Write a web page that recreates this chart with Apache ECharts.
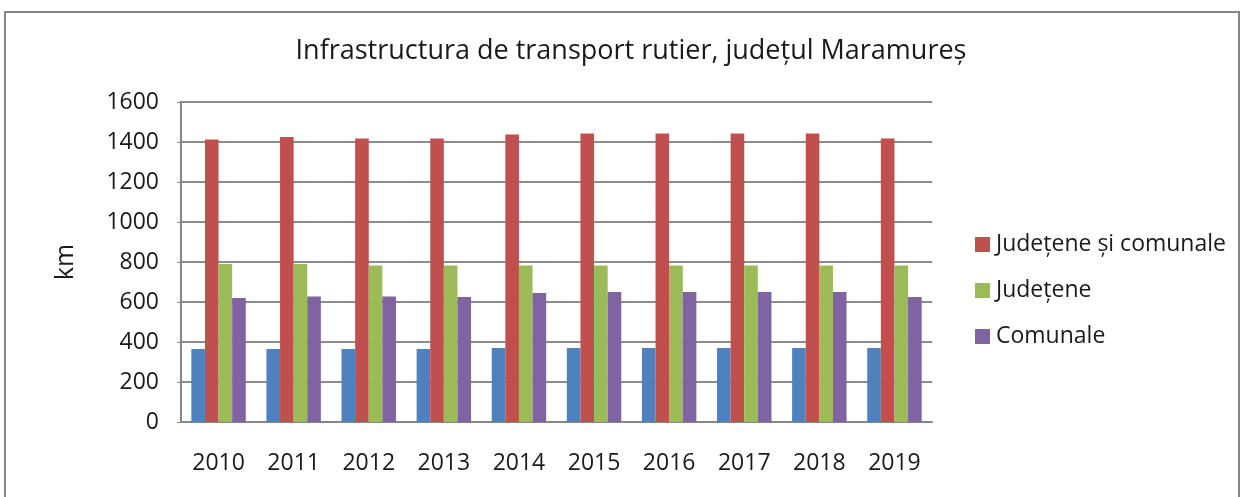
<!DOCTYPE html>
<html lang="ro">
<head>
    <meta charset="UTF-8">
    <title>Infrastructura de transport rutier, județul Maramureș</title>
    <script src="https://cdn.jsdelivr.net/npm/echarts@6.0.0/dist/echarts.min.js"></script>
    <style>
        * { margin: 0; padding: 0; }
        body { background: #fff; }
        #chart { width: 1240px; height: 497px; }
    </style>
</head>
<body>
<div id="chart"></div>
<script>
    // date (km)
    const years = ['2010', '2011', '2012', '2013', '2014', '2015', '2016', '2017', '2018', '2019'];
    const nationale = [365, 365, 365, 365, 370, 370, 370, 370, 370, 370];
    const judSiCom = [1412, 1425, 1418, 1417, 1437, 1442, 1442, 1442, 1442, 1417];
    const judetene = [790, 790, 783, 783, 783, 783, 783, 783, 783, 783];
    const comunale = [620, 627, 627, 625, 645, 650, 650, 650, 650, 625];

    const font = "'Open Sans', 'DejaVu Sans', sans-serif";

    function bar(name, data, color) {
        return {
            name: name,
            type: 'bar',
            data: data,
            barGap: '0%',
            barCategoryGap: '27.5%',
            itemStyle: {color: color},
            emphasis: {disabled: true}
        };
    }

    let myChart = echarts.init(document.getElementById('chart'));

    let option = {
        animation: false,
        textStyle: {fontFamily: font},
        title: {
            text: 'Infrastructura de transport rutier, județul Maramureș',
            left: 626,
            textAlign: 'center',
            top: 33,
            textStyle: {fontSize: 27, fontWeight: 'normal', color: '#1a1a1a', fontFamily: font}
        },
        legend: {
            data: ['Județene și comunale', 'Județene', 'Comunale'],
            orient: 'vertical',
            left: 970,
            top: 228,
            itemWidth: 15,
            itemHeight: 15,
            itemGap: 23,
            icon: 'rect',
            textStyle: {fontSize: 23, color: '#1a1a1a', padding: [0, 0, 0, 1]}
        },
        grid: {left: 181, right: 308, top: 102, bottom: 75},
        xAxis: {
            type: 'category',
            data: years,
            axisLine: {lineStyle: {color: '#868686', width: 2}},
            axisTick: {show: false},
            axisLabel: {fontSize: 23, color: '#1a1a1a', margin: 30}
        },
        yAxis: {
            type: 'value',
            min: 0,
            max: 1600,
            interval: 200,
            name: 'km',
            nameLocation: 'middle',
            nameGap: 103,
            nameRotate: 90,
            nameTextStyle: {fontSize: 25, color: '#1a1a1a'},
            axisLine: {show: true, lineStyle: {color: '#868686', width: 2}},
            axisTick: {show: true, inside: false, length: 4, lineStyle: {color: '#868686'}},
            axisLabel: {
                fontSize: 23, color: '#1a1a1a', margin: 22,
                formatter: function (v) { return String(v); }
            },
            splitLine: {lineStyle: {color: '#8c8c8c', width: 2}}
        },
        series: [
            bar('Naționale', nationale, '#4F81BD'),
            bar('Județene și comunale', judSiCom, '#C0504D'),
            bar('Județene', judetene, '#9BBB59'),
            bar('Comunale', comunale, '#8064A2')
        ],
        graphic: [{
            type: 'rect',
            shape: {x: 5, y: 12, width: 1234, height: 500},
            style: {fill: 'none', stroke: '#868686', lineWidth: 2},
            silent: true
        }]
    };

    myChart.setOption(option);
</script>
</body>
</html>
